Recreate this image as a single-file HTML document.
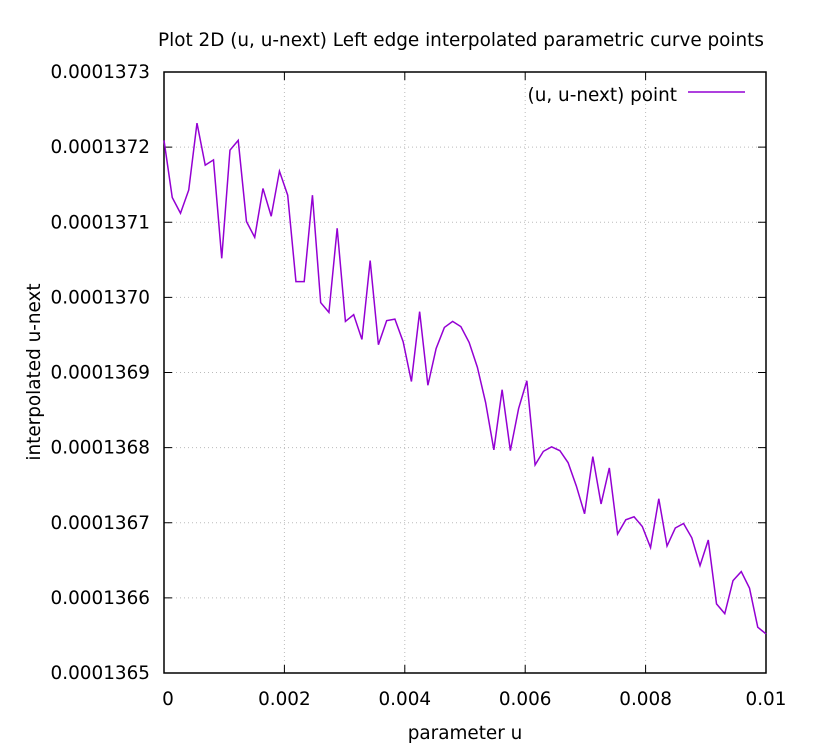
<!DOCTYPE html>
<html><head><meta charset="utf-8"><style>
body{margin:0;background:#fff}
svg text{font-family:"DejaVu Sans","Liberation Sans",sans-serif;font-size:18.4px;fill:#000}
</style></head><body>
<svg id="chart" width="820" height="748" xmlns="http://www.w3.org/2000/svg">
<rect width="820" height="748" fill="#fff"/>
<text x="461" y="46" text-anchor="middle">Plot 2D (u, u-next) Left edge interpolated parametric curve points</text>
<g id="grid"></g>
<g id="ticks"></g>
<rect x="164" y="72" width="602" height="601" fill="none" stroke="#000" stroke-width="1.5"/>
<polyline id="series" fill="none" stroke="#9400d3" stroke-width="1.5"/>
<text x="677" y="101" text-anchor="end">(u, u-next) point</text>
<line x1="688" y1="92" x2="745" y2="92" stroke="#9400d3" stroke-width="1.5"/>
<text x="465" y="739" text-anchor="middle">parameter u</text>
<text transform="translate(40,372) rotate(-90)" text-anchor="middle">interpolated u-next</text>
</svg>
<script>
// u-next values in units of 1e-7
const yValues=[1372.09,1371.33,1371.12,1371.43,1372.32,1371.76,1371.83,1370.52,1371.96,1372.09,1371.01,1370.80,1371.45,1371.08,1371.68,1371.36,1370.21,1370.21,1371.36,1369.93,1369.80,1370.92,1369.68,1369.77,1369.44,1370.49,1369.37,1369.69,1369.71,1369.41,1368.88,1369.81,1368.83,1369.32,1369.60,1369.68,1369.61,1369.40,1369.07,1368.60,1367.97,1368.77,1367.96,1368.52,1368.89,1367.77,1367.95,1368.01,1367.96,1367.80,1367.49,1367.12,1367.88,1367.25,1367.73,1366.85,1367.04,1367.08,1366.95,1366.67,1367.32,1366.69,1366.93,1366.99,1366.80,1366.43,1366.77,1365.92,1365.79,1366.23,1366.35,1366.13,1365.61,1365.52];
const xTicks=[0,0.002,0.004,0.006,0.008,0.01];
const xTickLabels=["0","0.002","0.004","0.006","0.008","0.01"];
const yTicks=[1365,1366,1367,1368,1369,1370,1371,1372,1373];
const yTickLabels=["0.0001365","0.0001366","0.0001367","0.0001368","0.0001369","0.0001370","0.0001371","0.0001372","0.0001373"];
const X0=164,X1=766,Y0=673,Y1=72;
const xs=v=>X0+(v-0)/0.01*(X1-X0);
const ys=v=>Y0-(v-1365)/8*(Y0-Y1);
const NS="http://www.w3.org/2000/svg";
const grid=document.getElementById('grid'),ticks=document.getElementById('ticks');
function mk(tag,a,p){const e=document.createElementNS(NS,tag);for(const k in a)e.setAttribute(k,a[k]);p.appendChild(e);return e;}
xTicks.forEach((t,i)=>{const x=xs(t);
 if(i>0&&i<xTicks.length-1){const g=mk('line',{x1:x,y1:Y1,x2:x,y2:Y0,stroke:'#bbb','stroke-dasharray':'1,3'},grid);
 
 }
 const a=mk('line',{x1:x,y1:Y0,x2:x,y2:Y0-8,stroke:'#000'},ticks);
 
 
 const b=mk('line',{x1:x,y1:Y1,x2:x,y2:Y1+8,stroke:'#000'},ticks);
 
 
 const tx=mk('text',{x:i==0?x+4:x,y:705,'text-anchor':'middle'},ticks);tx.textContent=xTickLabels[i];
 
 });
yTicks.forEach((t,i)=>{const y=ys(t);
 if(i>0&&i<yTicks.length-1){const g=mk('line',{x1:X0,y1:y,x2:X1,y2:y,stroke:'#bbb','stroke-dasharray':'1,3'},grid);
 
 }
 const a=mk('line',{x1:X0,y1:y,x2:X0+8,y2:y,stroke:'#000'},ticks);
 
 
 const b=mk('line',{x1:X1,y1:y,x2:X1-8,y2:y,stroke:'#000'},ticks);
 
 
 const tx=mk('text',{x:150,y:y+6,'text-anchor':'end'},ticks);tx.textContent=yTickLabels[i];
 
 });
const n=yValues.length;
document.getElementById('series').setAttribute('points',yValues.map((v,i)=>xs(i*0.01/(n-1))+','+ys(v)).join(' '));
</script>
</body></html>
